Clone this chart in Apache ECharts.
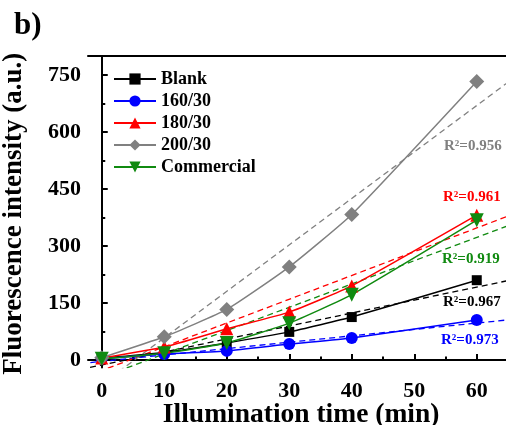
<!DOCTYPE html>
<html>
<head>
<meta charset="utf-8">
<script src="https://cdn.jsdelivr.net/npm/echarts@6/dist/echarts.min.js"></script>
<style>html,body{margin:0;padding:0;background:#fff;}#c{width:506px;height:425px;}</style>
</head>
<body>
<div id="c"></div>
<script>
var times = [0, 10, 20, 30, 40, 60];
var blank = [5, 20, 45, 74, 113, 210];
var s160 = [3, 16, 24, 42, 58, 105];
var s180 = [5, 34, 82, 126, 195, 381];
var s200 = [6, 61, 133, 245, 383, 733];
var commercial = [3, 18, 45, 97, 172, 368];

// linear-fit dashed lines, endpoints
var fitX = [-5, 70];
var fitBlank = [-30, 226];
var fit160 = [-12, 114];
var fit180 = [-59, 410];
var fit200 = [-125, 792];
var fitCommercial = [-76, 384];

var xLabels = [0, 10, 20, 30, 40, 50, 60];
var xMinor = [5, 15, 25, 35, 45, 55, 65];
var yLabels = [0, 150, 300, 450, 600, 750];
var yMinor = [75, 225, 375, 525, 675];

var r2Texts = ['R²=0.956', 'R²=0.961', 'R²=0.919', 'R²=0.967', 'R²=0.973'];

var names = ['Blank', '160/30', '180/30', '200/30', 'Commercial'];
var colors = ['#000000', '#0000ff', '#ff0000', '#808080', '#108a10'];
var symbols = ['rect', 'circle', 'triangle', 'diamond', 'triangle'];
var rotates = [0, 0, 0, 0, 180];
var sizes = [10, 12, 13, 15, 14];
var datas = [blank, s160, s180, s200, commercial];
var fits = [fitBlank, fit160, fit180, fit200, fitCommercial];

function pairs(xs, ys) { return xs.map(function (x, i) { return [x, ys[i]]; }); }

var FONT = '"Liberation Serif", "Times New Roman", serif';
var series = [];
for (var i = 0; i < 5; i++) {
  series.push({
    name: names[i] + ' fit', type: 'line', data: pairs(fitX, fits[i]),
    showSymbol: false, symbol: 'none', silent: true, z: 1,
    lineStyle: { color: colors[i], width: 1.3, type: [6, 4] }, clip: true
  });
}
for (var j = 0; j < 5; j++) {
  series.push({
    name: names[j], type: 'line', data: pairs(times, datas[j]),
    smooth: 0.15, z: 3,
    symbol: symbols[j], symbolSize: sizes[j], symbolRotate: rotates[j],
    itemStyle: { color: colors[j] },
    lineStyle: { color: colors[j], width: 1.5 }
  });
}

var gridLeft = 88, gridTop = 56;
var axisTxt = { fontFamily: FONT, fontWeight: 'bold', fontSize: 22, color: '#000' };
var axLine = { show: true, lineStyle: { color: '#000', width: 2 } };

var chart = echarts.init(document.getElementById('c'), null, { renderer: 'canvas' });
chart.setOption({
  animation: false,
  backgroundColor: '#fff',
  grid: { left: gridLeft, top: gridTop, right: -8.25, bottom: 57.4, containLabel: false, outerBoundsMode: 'none' },
  legend: {
    data: names, left: 108, top: 65, orient: 'vertical',
    itemWidth: 42, itemHeight: 14, itemGap: 4,
    textStyle: { fontFamily: FONT, fontWeight: 'bold', fontSize: 18, color: '#000' }
  },
  xAxis: [{
    type: 'value', min: -2.2, max: 66, position: 'bottom',
    axisLine: axLine, splitLine: { show: false },
    axisTick: { show: true, inside: true, length: 6, lineStyle: { width: 2, color: '#000' }, customValues: xLabels },
    axisLabel: Object.assign({ margin: 13, customValues: xLabels }, axisTxt),
    name: 'Illumination time (min)', nameLocation: 'middle', nameGap: 33, nameMoveOverlap: false,
    nameTextStyle: { fontFamily: FONT, fontWeight: 'bold', fontSize: 27.5, color: '#000' }
  }, {
    type: 'value', min: -2.2, max: 66, position: 'bottom',
    axisLine: { show: false }, splitLine: { show: false }, axisLabel: { show: false },
    axisTick: { show: true, inside: true, length: 3.5, lineStyle: { width: 2, color: '#000' }, customValues: xMinor }
  }, {
    type: 'value', min: -2.2, max: 66, position: 'top',
    axisLine: axLine, splitLine: { show: false }, axisLabel: { show: false }, axisTick: { show: false }
  }],
  yAxis: [{
    type: 'value', min: -20, max: 800,
    axisLine: axLine, splitLine: { show: false },
    axisTick: { show: true, inside: true, length: 6, lineStyle: { width: 2, color: '#000' }, customValues: yLabels },
    axisLabel: Object.assign({ margin: 7, customValues: yLabels }, axisTxt),
    name: 'Fluorescence intensity (a.u.)', nameLocation: 'middle', nameGap: 60, nameRotate: 90, nameMoveOverlap: false,
    nameTextStyle: { fontFamily: FONT, fontWeight: 'bold', fontSize: 27, color: '#000', padding: [0, 0, 0, -4] }
  }, {
    type: 'value', min: -20, max: 800, position: 'left',
    axisLine: { show: false }, splitLine: { show: false }, axisLabel: { show: false },
    axisTick: { show: true, inside: true, length: 3.5, lineStyle: { width: 2, color: '#000' }, customValues: yMinor }
  }],
  series: series,
  graphic: [
    { type: 'text', left: 14, top: 10, style: { text: 'b)', font: 'bold 31px ' + FONT, fill: '#000' } },
    { type: 'text', left: 444, top: 139, style: { text: r2Texts[0], font: 'bold 15px ' + FONT, fill: colors[3] } },
    { type: 'text', left: 443, top: 190, style: { text: r2Texts[1], font: 'bold 15px ' + FONT, fill: colors[2] } },
    { type: 'text', left: 442, top: 252, style: { text: r2Texts[2], font: 'bold 15px ' + FONT, fill: colors[4] } },
    { type: 'text', left: 443, top: 295, style: { text: r2Texts[3], font: 'bold 15px ' + FONT, fill: colors[0] } },
    { type: 'text', left: 441, top: 333, style: { text: r2Texts[4], font: 'bold 15px ' + FONT, fill: colors[1] } }
  ]
});
</script>
</body>
</html>
